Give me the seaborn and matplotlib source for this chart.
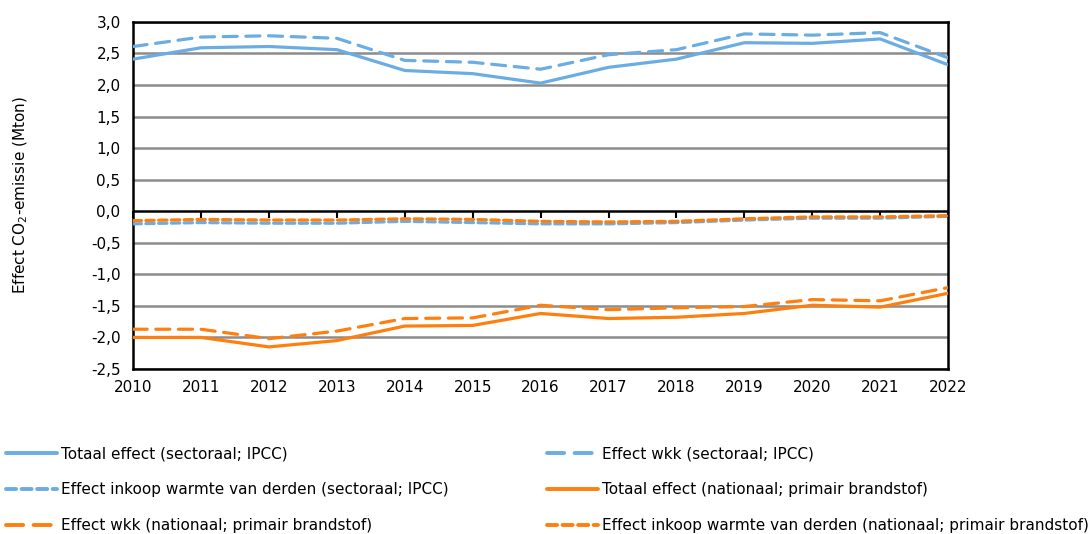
import numpy as np
import pandas as pd
import matplotlib
matplotlib.use("Agg")
import matplotlib.pyplot as plt
from matplotlib.lines import Line2D
import seaborn as sns

# data (Mton CO2)
years = list(range(2010, 2023))
totaal_sect = [2.41, 2.59, 2.61, 2.56, 2.23, 2.18, 2.03, 2.28, 2.41, 2.67, 2.66, 2.73, 2.32]
wkk_sect = [2.61, 2.76, 2.78, 2.74, 2.39, 2.36, 2.25, 2.48, 2.56, 2.81, 2.79, 2.83, 2.43]
inkoop_sect = [-0.20, -0.18, -0.19, -0.19, -0.16, -0.18, -0.20, -0.20, -0.18, -0.14, -0.11, -0.11, -0.08]
totaal_nat = [-2.00, -2.00, -2.15, -2.05, -1.82, -1.81, -1.62, -1.70, -1.68, -1.62, -1.49, -1.52, -1.30]
wkk_nat = [-1.87, -1.87, -2.02, -1.90, -1.70, -1.69, -1.49, -1.56, -1.53, -1.51, -1.40, -1.42, -1.21]
inkoop_nat = [-0.15, -0.13, -0.14, -0.14, -0.12, -0.13, -0.16, -0.17, -0.16, -0.12, -0.09, -0.09, -0.07]

labels = [
    "Totaal effect (sectoraal; IPCC)",
    "Effect wkk (sectoraal; IPCC)",
    "Effect inkoop warmte van derden (sectoraal; IPCC)",
    "Totaal effect (nationaal; primair brandstof)",
    "Effect wkk (nationaal; primair brandstof)",
    "Effect inkoop warmte van derden (nationaal; primair brandstof)",
]
series = [totaal_sect, wkk_sect, inkoop_sect, totaal_nat, wkk_nat, inkoop_nat]
yticks = np.arange(-2.5, 3.01, 0.5)

blue = "#6aade4"
orange = "#ff7f0e"
colors = [blue, blue, blue, orange, orange, orange]
dash_styles = ["", (4.4, 2.7), (2.6, 1.4), "", (4.4, 2.7), (2.6, 1.4)]

df = pd.concat([pd.DataFrame({"jaar": years, "waarde": v, "reeks": l})
                for v, l in zip(series, labels)], ignore_index=True)

sns.set_style("white")
plt.rcParams["font.family"] = ["DejaVu Sans"]
plt.rcParams["font.size"] = 11
plt.rcParams["text.color"] = "black"
plt.rcParams["axes.labelcolor"] = "black"
plt.rcParams["xtick.color"] = "black"
plt.rcParams["ytick.color"] = "black"

fig = plt.figure(figsize=(10.91, 5.34), dpi=100)
ax = fig.add_axes([0.122, 0.309, 0.747, 0.65])

for y in yticks:
    if abs(y) > 1e-9:
        ax.axhline(y, color="#8c8c8c", lw=1.8, zorder=0)

sns.lineplot(data=df, x="jaar", y="waarde", hue="reeks", style="reeks",
             palette=dict(zip(labels, colors)), dashes=dict(zip(labels, dash_styles)),
             linewidth=2.3, legend=False, ax=ax, zorder=3)
for line in ax.get_lines():
    line.set_dash_capstyle("round")

ax.axhline(0, color="black", lw=1.8, zorder=2)

ax.set_xlim(years[0], years[-1])
ax.set_ylim(-2.5, 3.0)
ax.set_xticks(years)
ax.set_xticklabels([str(y) for y in years])
ax.set_yticks(yticks)
ax.set_yticklabels([f"{y:.1f}".replace(".", ",") for y in yticks])
ax.tick_params(axis="x", length=0, pad=8)
ax.tick_params(axis="y", length=5, width=1.5, direction="out", pad=4)
ax.set_xlabel("")
ax.set_ylabel("Effect CO$_2$-emissie (Mton)")
ax.yaxis.set_label_coords(-0.126, 0.5)
for sp in ax.spines.values():
    sp.set_color("black")
    sp.set_linewidth(1.8)

# tick marks on the zero line
sec = ax.secondary_xaxis(2.5 / 5.5)
sec.set_xticks(years)
sec.set_xticklabels([])
sec.tick_params(length=5, width=1.5, direction="out", color="black")
sec.spines["bottom"].set_visible(False)

handles = [Line2D([], [], color=c, lw=2.8, linestyle="-" if d == "" else (0, d),
                  dash_capstyle="round") for c, d in zip(colors, dash_styles)]
order = [0, 2, 4, 1, 3, 5]
fig.legend([handles[i] for i in order], [labels[i] for i in order],
           loc="upper left", bbox_to_anchor=(0.0, 0.175), ncol=2, frameon=False,
           handlelength=3.3, handletextpad=0.3, labelspacing=1.35, columnspacing=6.45,
           fontsize=11, borderaxespad=0)

fig.savefig("out.png", dpi=100)
